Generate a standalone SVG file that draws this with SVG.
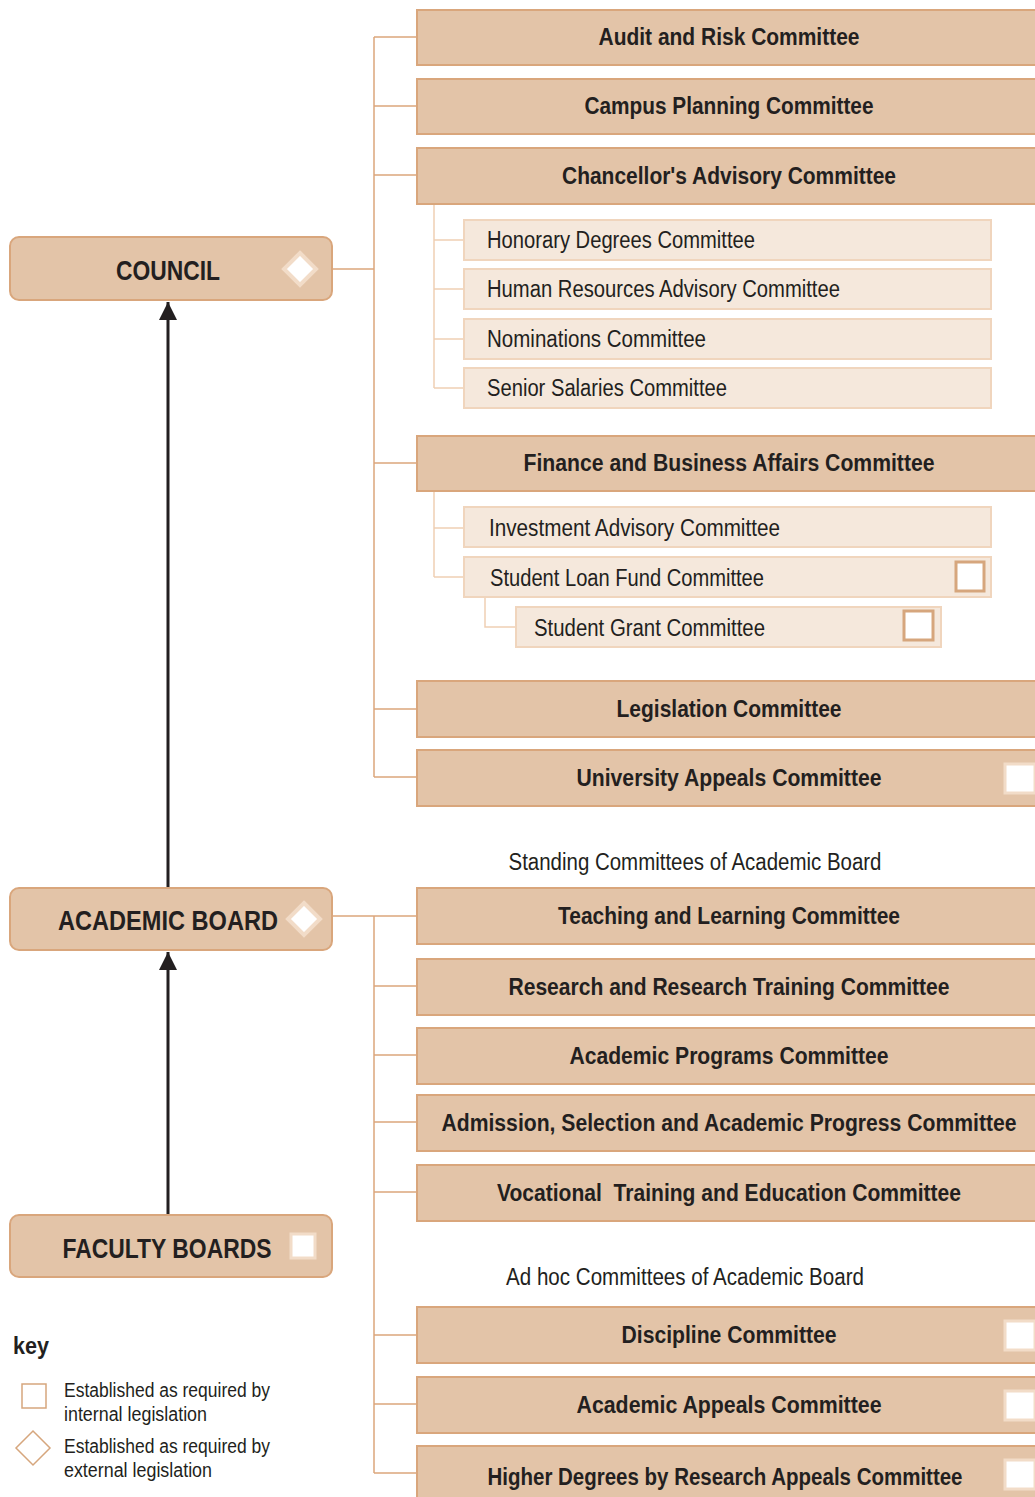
<svg xmlns="http://www.w3.org/2000/svg" width="1035" height="1497" viewBox="0 0 1035 1497">
<style>
.main{fill:#e3c4a8;stroke:#d9a67c;stroke-width:2}
.sub{fill:#f5e8dc;stroke:#f0d5bd;stroke-width:2}
.b{font-family:"Liberation Sans",Arial,sans-serif;font-weight:bold;font-size:23px;fill:#231f20;text-anchor:middle}
.big{font-family:"Liberation Sans",Arial,sans-serif;font-weight:bold;font-size:27px;fill:#231f20;text-anchor:middle}
.l{font-family:"Liberation Sans",Arial,sans-serif;font-size:23px;fill:#231f20}
.k{font-family:"Liberation Sans",Arial,sans-serif;font-size:20px;fill:#231f20}
.ln{fill:none;stroke:#dca67c;stroke-width:1.5}
.ln2{fill:none;stroke:#efcfb4;stroke-width:1.5}
.wd{fill:#fff;stroke:#f2dcc8;stroke-width:4}
.ws{fill:#fff;stroke:#f2dcc8;stroke-width:3}
.os{fill:#fff;stroke:#d6a67d;stroke-width:3}
</style>
<defs>
<marker id="ah" viewBox="0 0 10 10" refX="10" refY="5" markerWidth="6" markerHeight="6" orient="auto" markerUnits="strokeWidth"><path d="M0,0 L10,5 L0,10 z" fill="#231f20"/></marker>
</defs>
<g id="connectors">
<line x1="168" y1="887" x2="168" y2="302" stroke="#231f20" stroke-width="3" marker-end="url(#ah)"/>
<line x1="168" y1="1214" x2="168" y2="952" stroke="#231f20" stroke-width="3" marker-end="url(#ah)"/>
<path class="ln" d="M332,269 H374 M374,37 V777 M374,37 H417 M374,106 H417 M374,175 H417 M374,463 H417 M374,709 H417 M374,777 H417"/>
<path class="ln2" d="M434,204 V388 M434,240 H464 M434,289 H464 M434,339 H464 M434,388 H464 M434,491 V577 M434,528 H464 M434,577 H464 M485,597 V627 H516"/>
<path class="ln" d="M332,916 H417 M374,916 V1473 M374,986 H417 M374,1055 H417 M374,1122 H417 M374,1192 H417 M374,1335 H417 M374,1404 H417 M374,1473 H417"/>
</g>
<g id="council"><rect class="main" x="10" y="237" width="322" height="63" rx="9"/><text class="big" x="168" y="280" textLength="104" lengthAdjust="spacingAndGlyphs">COUNCIL</text><path class="wd" d="M300,253 L316,269 L300,285 L284,269 z"/></g>
<g id="academic-board"><rect class="main" x="10" y="888" width="322" height="62" rx="9"/><text class="big" x="168" y="930" textLength="220" lengthAdjust="spacingAndGlyphs">ACADEMIC BOARD</text><path class="wd" d="M304,903 L320,919 L304,935 L288,919 z"/></g>
<g id="faculty-boards"><rect class="main" x="10" y="1215" width="322" height="62" rx="9"/><text class="big" x="167" y="1258" textLength="209" lengthAdjust="spacingAndGlyphs">FACULTY BOARDS</text><rect class="ws" x="291" y="1234" width="24" height="24"/></g>
<g id="audit"><rect class="main" x="417" y="10" width="630" height="55"/><text class="b" x="729" y="45" textLength="261" lengthAdjust="spacingAndGlyphs">Audit and Risk Committee</text></g>
<g id="campus"><rect class="main" x="417" y="79" width="630" height="55"/><text class="b" x="729" y="114" textLength="289" lengthAdjust="spacingAndGlyphs">Campus Planning Committee</text></g>
<g id="chancellor"><rect class="main" x="417" y="148" width="630" height="56"/><text class="b" x="729" y="184" textLength="334" lengthAdjust="spacingAndGlyphs">Chancellor's Advisory Committee</text></g>
<g id="honorary"><rect class="sub" x="464" y="220" width="527" height="40"/><text class="l" x="487" y="248" textLength="268" lengthAdjust="spacingAndGlyphs">Honorary Degrees Committee</text></g>
<g id="hr"><rect class="sub" x="464" y="269" width="527" height="40"/><text class="l" x="487" y="297" textLength="353" lengthAdjust="spacingAndGlyphs">Human Resources Advisory Committee</text></g>
<g id="nominations"><rect class="sub" x="464" y="319" width="527" height="40"/><text class="l" x="487" y="347" textLength="219" lengthAdjust="spacingAndGlyphs">Nominations Committee</text></g>
<g id="salaries"><rect class="sub" x="464" y="368" width="527" height="40"/><text class="l" x="487" y="396" textLength="240" lengthAdjust="spacingAndGlyphs">Senior Salaries Committee</text></g>
<g id="finance"><rect class="main" x="417" y="436" width="630" height="55"/><text class="b" x="729" y="471" textLength="411" lengthAdjust="spacingAndGlyphs">Finance and Business Affairs Committee</text></g>
<g id="investment"><rect class="sub" x="464" y="507" width="527" height="40"/><text class="l" x="489" y="536" textLength="291" lengthAdjust="spacingAndGlyphs">Investment Advisory Committee</text></g>
<g id="loan"><rect class="sub" x="464" y="557" width="527" height="40"/><text class="l" x="490" y="586" textLength="274" lengthAdjust="spacingAndGlyphs">Student Loan Fund Committee</text><rect class="os" x="956" y="562" width="28" height="29"/></g>
<g id="grant"><rect class="sub" x="516" y="607" width="425" height="40"/><text class="l" x="534" y="636" textLength="231" lengthAdjust="spacingAndGlyphs">Student Grant Committee</text><rect class="os" x="904" y="611" width="29" height="29"/></g>
<g id="legislation"><rect class="main" x="417" y="681" width="630" height="56"/><text class="b" x="729" y="717" textLength="225" lengthAdjust="spacingAndGlyphs">Legislation Committee</text></g>
<g id="univ-appeals"><rect class="main" x="417" y="750" width="630" height="56"/><text class="b" x="729" y="786" textLength="305" lengthAdjust="spacingAndGlyphs">University Appeals Committee</text><rect class="ws" x="1005" y="764" width="30" height="29"/></g>
<text class="l" x="695" y="870" text-anchor="middle" textLength="373" lengthAdjust="spacingAndGlyphs">Standing Committees of Academic Board</text>
<g id="teaching"><rect class="main" x="417" y="888" width="630" height="56"/><text class="b" x="729" y="924" textLength="342" lengthAdjust="spacingAndGlyphs">Teaching and Learning Committee</text></g>
<g id="research"><rect class="main" x="417" y="959" width="630" height="56"/><text class="b" x="729" y="995" textLength="441" lengthAdjust="spacingAndGlyphs">Research and Research Training Committee</text></g>
<g id="programs"><rect class="main" x="417" y="1028" width="630" height="56"/><text class="b" x="729" y="1064" textLength="319" lengthAdjust="spacingAndGlyphs">Academic Programs Committee</text></g>
<g id="admission"><rect class="main" x="417" y="1095" width="630" height="56"/><text class="b" x="729" y="1131" font-size="21" textLength="575" lengthAdjust="spacingAndGlyphs">Admission, Selection and Academic Progress Committee</text></g>
<g id="vocational"><rect class="main" x="417" y="1165" width="630" height="56"/><text class="b" x="729" y="1201" textLength="464" lengthAdjust="spacingAndGlyphs" xml:space="preserve">Vocational  Training and Education Committee</text></g>
<text class="l" x="685" y="1285" text-anchor="middle" textLength="358" lengthAdjust="spacingAndGlyphs">Ad hoc Committees of Academic Board</text>
<g id="discipline"><rect class="main" x="417" y="1307" width="630" height="56"/><text class="b" x="729" y="1343" textLength="215" lengthAdjust="spacingAndGlyphs">Discipline Committee</text><rect class="ws" x="1005" y="1321" width="30" height="29"/></g>
<g id="acad-appeals"><rect class="main" x="417" y="1377" width="630" height="56"/><text class="b" x="729" y="1413" textLength="305" lengthAdjust="spacingAndGlyphs">Academic Appeals Committee</text><rect class="ws" x="1005" y="1391" width="30" height="29"/></g>
<g id="hdr-appeals"><rect class="main" x="417" y="1446" width="630" height="60"/><text class="b" x="725" y="1485" textLength="475" lengthAdjust="spacingAndGlyphs">Higher Degrees by Research Appeals Committee</text><rect class="ws" x="1005" y="1460" width="30" height="29"/></g>
<g id="key">
<text x="13" y="1354" font-family="Liberation Sans,Arial,sans-serif" font-weight="bold" font-size="23" fill="#231f20" textLength="36" lengthAdjust="spacingAndGlyphs">key</text>
<rect x="22" y="1384" width="24" height="24" fill="none" stroke="#d6a67d" stroke-width="1.5"/>
<text class="k" x="64" y="1397" textLength="206" lengthAdjust="spacingAndGlyphs">Established as required by</text>
<text class="k" x="64" y="1421" textLength="143" lengthAdjust="spacingAndGlyphs">internal legislation</text>
<path d="M33,1431 L50,1448 L33,1465 L16,1448 z" fill="none" stroke="#d6a67d" stroke-width="1.5"/>
<text class="k" x="64" y="1453" textLength="206" lengthAdjust="spacingAndGlyphs">Established as required by</text>
<text class="k" x="64" y="1477" textLength="148" lengthAdjust="spacingAndGlyphs">external legislation</text>
</g>
</svg>
